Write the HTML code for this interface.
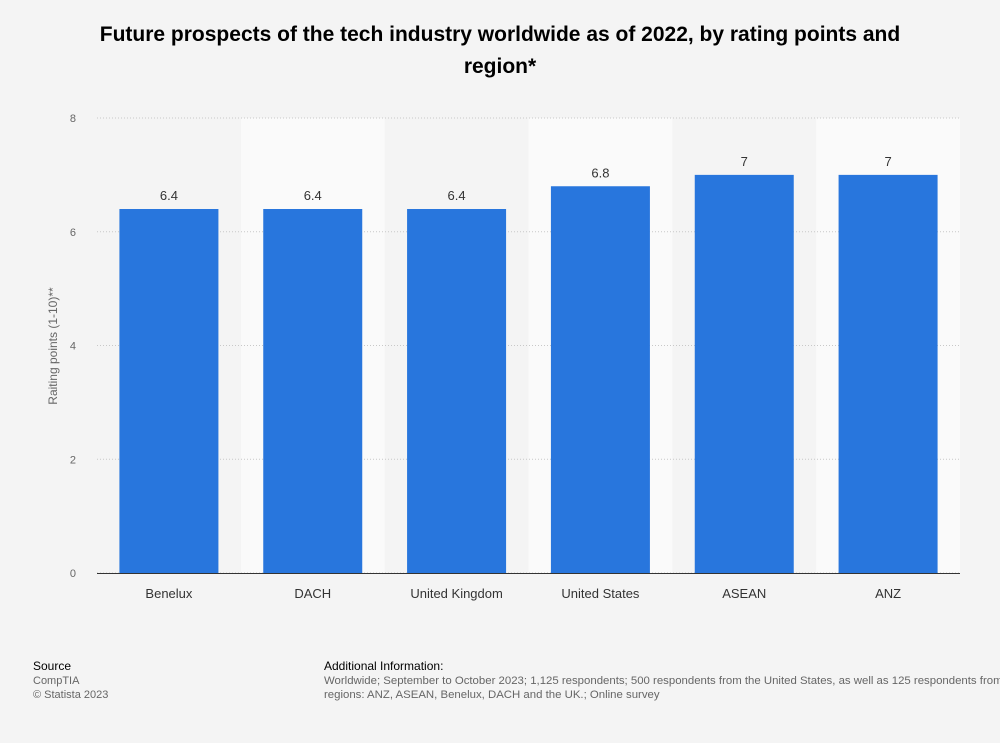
<!DOCTYPE html>
<html><head><meta charset="utf-8"><style>
body{margin:0;background:#f4f4f4;font-family:"Liberation Sans",Arial,sans-serif;}
#wrap{position:relative;width:1000px;height:743px;overflow:hidden;background:#f4f4f4;}
h1{position:absolute;left:90px;top:19px;width:820px;margin:0;text-align:center;font-size:21px;font-weight:bold;line-height:32px;color:#000;}
.ft{position:absolute;font-size:11px;color:#666;line-height:14px;white-space:nowrap;}
.ft b{color:#000;font-weight:normal;font-size:12px;}
</style></head><body>
<div id="wrap">
<h1>Future prospects of the tech industry worldwide as of 2022, by rating points and region*</h1>
<svg id="chart" width="1000" height="743" style="position:absolute;left:0;top:0"></svg>
<div class="ft" style="left:33px;top:659px"><b>Source</b><br>CompTIA<br>© Statista 2023</div>
<div class="ft" style="left:324px;top:659px;font-size:11.4px"><b>Additional Information:</b><br>Worldwide; September to October 2023; 1,125 respondents; 500 respondents from the United States, as well as 125 respondents from each of the following<br>regions: ANZ, ASEAN, Benelux, DACH and the UK.; Online survey</div>
</div>
<script>
const categories=["Benelux","DACH","United Kingdom","United States","ASEAN","ANZ"];
const values=[6.4,6.4,6.4,6.8,7,7];
const valueLabels=["6.4","6.4","6.4","6.8","7","7"];
const yTicks=[0,2,4,6,8];
const NS="http://www.w3.org/2000/svg";
const svg=document.getElementById("chart");
const X0=97,X1=960,Y0=573,Y1=118,YMAX=8;
const bw=(X1-X0)/categories.length;
const y=v=>Y0-(Y0-Y1)*v/YMAX;
const x=i=>X0+bw*i;
function mk(t,a,txt){const e=document.createElementNS(NS,t);for(const k in a)e.setAttribute(k,a[k]);if(txt!==undefined)e.textContent=txt;svg.appendChild(e);return e;}
categories.forEach((c,i)=>{if(i%2==1){const r=mk("rect",{x:x(i),y:Y1,width:bw,height:Y0-Y1,fill:"#fafafa"});

}});
yTicks.forEach(t=>{
const l=mk("line",{x1:X0,x2:X1,y1:y(t),y2:y(t),stroke:"#c8c8c8","stroke-dasharray":"1,2"});


const tx=mk("text",{x:76,y:y(t)+4,"font-size":11,fill:"#666","text-anchor":"end"},t);

});
const bwid=99;
categories.forEach((c,i)=>{
const cx=x(i)+bw/2;
const r=mk("rect",{x:cx-bwid/2,y:y(values[i]),width:bwid,height:Y0-y(values[i]),fill:"#2876dd"});


const v=mk("text",{x:cx,y:y(values[i])-9,"font-size":13,fill:"#333","text-anchor":"middle"},valueLabels[i]);


const cl=mk("text",{x:cx,y:598,"font-size":13,fill:"#333","text-anchor":"middle"},c);

});
const ax=mk("line",{x1:X0,x2:X1,y1:Y0+0.5,y2:Y0+0.5,stroke:"#333","stroke-width":1});


const yt=mk("text",{x:0,y:0,"font-size":12,fill:"#666","text-anchor":"middle",transform:"translate(57,346) rotate(-90)"},"Raiting points (1-10)**");


</script>
</body></html>
